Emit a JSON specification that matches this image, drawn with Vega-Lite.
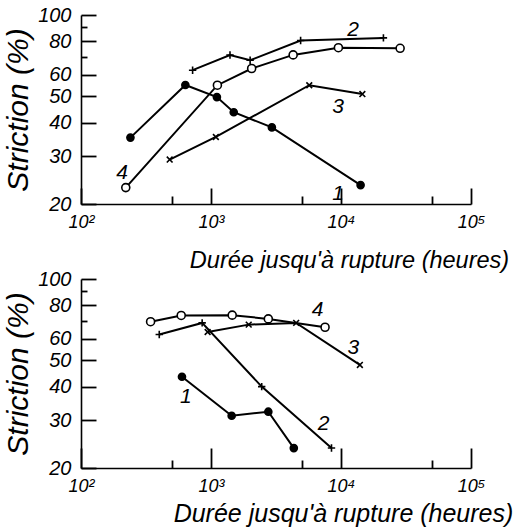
{
  "$schema": "https://vega.github.io/schema/vega-lite/v6.json",
  "background": "white",
  "padding": {"left": 3, "top": 5, "right": 5, "bottom": 5},
  "config": {
    "view": {"stroke": null},
    "font": "Liberation Sans",
    "axis": {
      "labelFont": "Liberation Sans", "labelFontStyle": "italic", "labelColor": "black",
      "titleFont": "Liberation Sans", "titleFontStyle": "italic", "titleFontWeight": "normal", "titleColor": "black",
      "domainColor": "black", "domainWidth": 1.6, "tickColor": "black", "tickWidth": 1.8, "grid": false,
      "labelOverlap": false, "labelFlush": false
    },
    "text": {"font": "Liberation Sans", "fontStyle": "italic", "fontSize": 21, "color": "black"}
  },
  "datasets": {
    "top": [
      {"c": "1", "t": 240, "v": 35.2}, {"c": "1", "t": 635, "v": 55.1}, {"c": "1", "t": 1110, "v": 49.7},
      {"c": "1", "t": 1496, "v": 43.7}, {"c": "1", "t": 2940, "v": 38.4}, {"c": "1", "t": 14150, "v": 23.5},
      {"c": "2", "t": 722, "v": 62.5}, {"c": "2", "t": 1400, "v": 71.1}, {"c": "2", "t": 2000, "v": 68.0},
      {"c": "2", "t": 4890, "v": 80.5}, {"c": "2", "t": 21200, "v": 82.3},
      {"c": "3", "t": 481, "v": 29.2}, {"c": "3", "t": 1090, "v": 35.4}, {"c": "3", "t": 5700, "v": 55.0},
      {"c": "3", "t": 14600, "v": 51.0},
      {"c": "4", "t": 221, "v": 23.0}, {"c": "4", "t": 1120, "v": 55.0}, {"c": "4", "t": 2055, "v": 63.4},
      {"c": "4", "t": 4285, "v": 71.2}, {"c": "4", "t": 9550, "v": 75.7}, {"c": "4", "t": 28500, "v": 75.3}
    ],
    "topLabels": [
      {"label": "1", "t": 9480, "v": 21.8}, {"label": "2", "t": 12400, "v": 87.8},
      {"label": "3", "t": 9500, "v": 45.8}, {"label": "4", "t": 207, "v": 26.0}
    ],
    "bottom": [
      {"c": "1", "t": 598, "v": 43.5}, {"c": "1", "t": 1442, "v": 31.2}, {"c": "1", "t": 2760, "v": 32.3},
      {"c": "1", "t": 4335, "v": 23.7},
      {"c": "2", "t": 400, "v": 62.3}, {"c": "2", "t": 855, "v": 68.8}, {"c": "2", "t": 2455, "v": 40.0},
      {"c": "2", "t": 8450, "v": 23.7},
      {"c": "3", "t": 942, "v": 63.7}, {"c": "3", "t": 1950, "v": 67.8}, {"c": "3", "t": 4520, "v": 68.8},
      {"c": "3", "t": 13970, "v": 48.1},
      {"c": "4", "t": 343, "v": 69.5}, {"c": "4", "t": 590, "v": 73.3}, {"c": "4", "t": 1456, "v": 73.5},
      {"c": "4", "t": 2760, "v": 71.2}, {"c": "4", "t": 7540, "v": 66.3}
    ],
    "bottomLabels": [
      {"label": "1", "t": 640, "v": 36.6}, {"label": "2", "t": 7360, "v": 29.1},
      {"label": "3", "t": 12450, "v": 55.8}, {"label": "4", "t": 6600, "v": 76.5}
    ]
  },
  "vconcat": [
    {
      "width": 390, "height": 189,
      "encoding": {
        "x": {"field": "t", "type": "quantitative",
          "scale": {"type": "log", "domain": [100, 100000], "nice": false},
          "axis": {
            "values": [100, 500, 1000, 5000, 10000, 50000, 100000],
            "labelExpr": "datum.value==100?'10²':datum.value==1000?'10³':datum.value==10000?'10⁴':datum.value==100000?'10⁵':''",
            "tickSize": {"condition": {"test": "datum.value==500||datum.value==5000||datum.value==50000", "value": -8}, "value": -16},
            "labelFontSize": 18, "labelPadding": 25,
            "title": "Durée jusqu'à rupture (heures)", "titleFontSize": 23.5,
            "titleX": 268, "titleY": 63, "titleAlign": "center", "titleBaseline": "alphabetic"
          }},
        "y": {"field": "v", "type": "quantitative",
          "scale": {"type": "log", "domain": [20, 100], "nice": false, "zero": false},
          "axis": {
            "values": [20, 30, 40, 50, 60, 70, 80, 90, 100],
            "labelExpr": "(datum.value==70||datum.value==90)?'':datum.label",
            "tickSize": {"condition": {"test": "datum.value==70||datum.value==90", "value": -6}, "value": -15},
            "labelFontSize": 20, "labelPadding": 25,
            "title": "Striction (%)", "titleFontSize": 30, "titlePadding": 4
          }}
      },
      "layer": [
        {"data": {"name": "top"}, "mark": {"type": "line", "color": "black", "strokeWidth": 2},
         "encoding": {"detail": {"field": "c"}}},
        {"data": {"name": "top"}, "mark": {"type": "point", "stroke": "black", "strokeWidth": 1.6, "opacity": 1},
         "encoding": {
           "shape": {"field": "c", "type": "nominal", "legend": null,
             "scale": {"domain": ["1", "2", "3", "4"], "range": ["circle", "M-1,0L1,0M0,-1L0,1", "M-0.75,-0.75L0.75,0.75M-0.75,0.75L0.75,-0.75", "circle"]}},
           "fill": {"field": "c", "type": "nominal", "legend": null,
             "scale": {"domain": ["1", "2", "3", "4"], "range": ["black", "white", "white", "white"]}},
           "size": {"field": "c", "type": "ordinal", "legend": null,
             "scale": {"domain": ["1", "2", "3", "4"], "range": [50, 64, 60, 100]}}
         }},
        {"data": {"name": "topLabels"}, "mark": {"type": "text"},
         "encoding": {"text": {"field": "label"}}}
      ]
    },
    {
      "width": 390, "height": 189,
      "encoding": {
        "x": {"field": "t", "type": "quantitative",
          "scale": {"type": "log", "domain": [100, 100000], "nice": false},
          "axis": {
            "values": [100, 500, 1000, 5000, 10000, 50000, 100000],
            "labelExpr": "datum.value==100?'10²':datum.value==1000?'10³':datum.value==10000?'10⁴':datum.value==100000?'10⁵':''",
            "tickSize": {"condition": {"test": "datum.value==500||datum.value==5000||datum.value==50000", "value": -8}, "value": -20},
            "labelFontSize": 18, "labelPadding": 29,
            "title": "Durée jusqu'à rupture (heures)", "titleFontSize": 25,
            "titleX": 262, "titleY": 53, "titleAlign": "center", "titleBaseline": "alphabetic"
          }},
        "y": {"field": "v", "type": "quantitative",
          "scale": {"type": "log", "domain": [20, 100], "nice": false, "zero": false},
          "axis": {
            "values": [20, 30, 40, 50, 60, 70, 80, 90, 100],
            "labelExpr": "(datum.value==70||datum.value==90)?'':datum.label",
            "tickSize": {"condition": {"test": "datum.value==70||datum.value==90", "value": -6}, "value": -15},
            "labelFontSize": 20, "labelPadding": 25,
            "title": "Striction (%)", "titleFontSize": 30, "titlePadding": 4
          }}
      },
      "layer": [
        {"data": {"name": "bottom"}, "mark": {"type": "line", "color": "black", "strokeWidth": 2},
         "encoding": {"detail": {"field": "c"}}},
        {"data": {"name": "bottom"}, "mark": {"type": "point", "stroke": "black", "strokeWidth": 1.6, "opacity": 1},
         "encoding": {
           "shape": {"field": "c", "type": "nominal", "legend": null,
             "scale": {"domain": ["1", "2", "3", "4"], "range": ["circle", "M-1,0L1,0M0,-1L0,1", "M-0.75,-0.75L0.75,0.75M-0.75,0.75L0.75,-0.75", "circle"]}},
           "fill": {"field": "c", "type": "nominal", "legend": null,
             "scale": {"domain": ["1", "2", "3", "4"], "range": ["black", "white", "white", "white"]}},
           "size": {"field": "c", "type": "ordinal", "legend": null,
             "scale": {"domain": ["1", "2", "3", "4"], "range": [50, 64, 60, 100]}}
         }},
        {"data": {"name": "bottomLabels"}, "mark": {"type": "text"},
         "encoding": {"text": {"field": "label"}}}
      ]
    }
  ],
  "bounds": "flush",
  "spacing": 75
}
